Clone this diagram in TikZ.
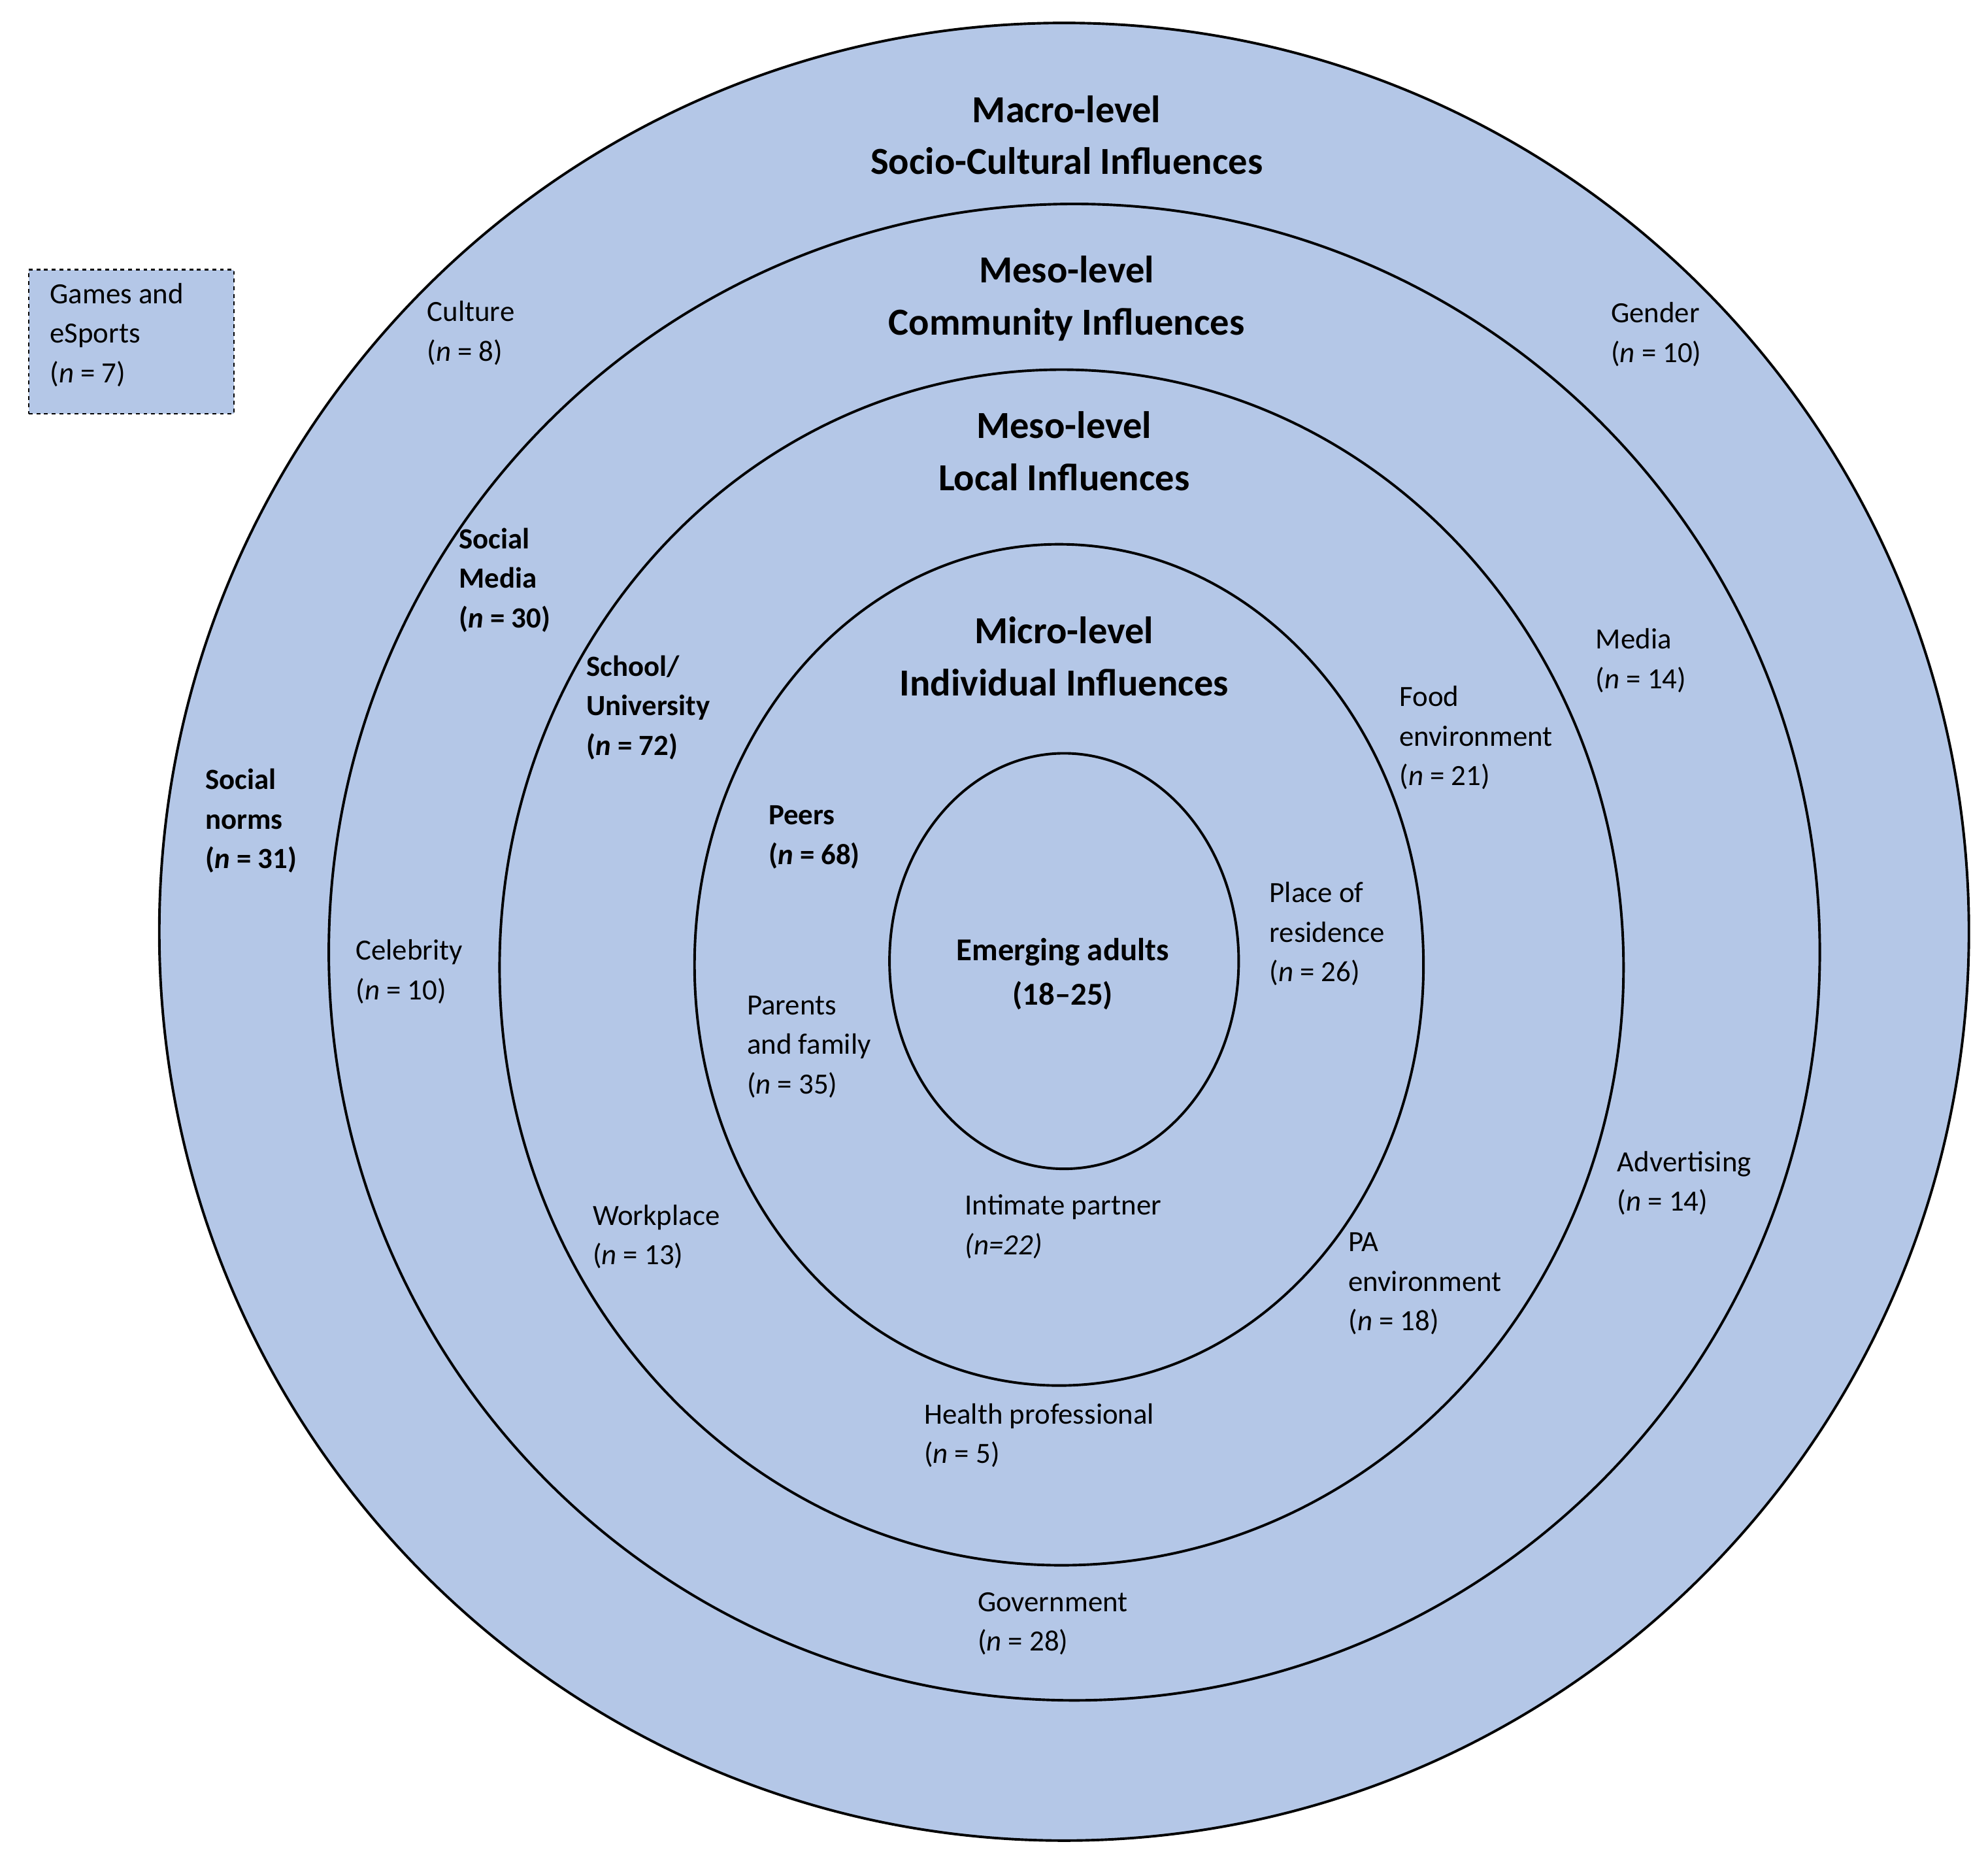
\documentclass[tikz,border=0pt]{standalone}
\usepackage{fontspec}
\setmainfont{Carlito}
\begin{document}
\begin{tikzpicture}[x=1pt,y=-1pt,
 ring/.style={draw=black,line width=2pt,fill=ringfill},
 lab/.style={anchor=north west,align=left,inner sep=0pt,font=\fontsize{23}{31}\selectfont},
 blab/.style={lab,font=\fontsize{23}{31}\selectfont\bfseries},
 head/.style={align=center,inner sep=0pt,font=\fontsize{30}{41}\selectfont\bfseries}]
\definecolor{ringfill}{RGB}{180,199,231}
\useasboundingbox (0,0) rectangle (1560,1458);
\fill[white] (0,0) rectangle (1560,1458);
\path[ring] (835,731) ellipse [x radius=710,y radius=713];
\path[ring] (843,747) ellipse [x radius=585,y radius=587];
\path[ring] (833,759) ellipse [x radius=441,y radius=469];
\path[ring] (831,757) ellipse [x radius=286,y radius=330];
\path[ring] (835,754) ellipse [x radius=137,y radius=163];
\node[draw=black,dashed,line width=1.2pt,fill=ringfill,minimum width=161,minimum height=113,anchor=north west] (games) at (22,211) {};
\node[lab] (gtxt) at (39,222) {Games and\\eSports\\(\textit{n} = 7)};
\node[head] (h1) at (837,106) {Macro-level\\Socio-Cultural Influences};
\node[head] (h2) at (837,234) {Meso-level\\Community Influences};
\node[head] (h3) at (835,354) {Meso-level\\Local Influences};
\node[head] (h4) at (835,515) {Micro-level\\Individual Influences};
\node[align=center,inner sep=0pt,font=\fontsize{25}{35}\selectfont\bfseries] (ea) at (834,764) {Emerging adults\\(18--25)};
\node[lab] (culture) at (335,236) {Culture\\(\textit{n} = 8)};
\node[lab] (gender) at (1264,237) {Gender\\(\textit{n} = 10)};
\node[blab] (sm) at (360,414) {Social\\Media\\(\textit{n} = 30)};
\node[blab] (sn) at (161,603) {Social\\norms\\(\textit{n} = 31)};
\node[lab] (media) at (1252,493) {Media\\(\textit{n} = 14)};
\node[blab] (school) at (460,514) {School/\\University\\(\textit{n} = 72)};
\node[lab] (food) at (1098,538) {Food\\environment\\(\textit{n} = 21)};
\node[blab] (peers) at (603,632) {Peers\\(\textit{n} = 68)};
\node[lab] (place) at (996,692) {Place of\\residence\\(\textit{n} = 26)};
\node[lab] (celeb) at (279,737) {Celebrity\\(\textit{n} = 10)};
\node[lab] (parents) at (586,781) {Parents\\and family\\(\textit{n} = 35)};
\node[lab] (adv) at (1269,903) {Advertising\\(\textit{n} = 14)};
\node[lab] (intim) at (757,937) {Intimate partner\\\textit{(n=22)}};
\node[lab] (work) at (465,945) {Workplace\\(\textit{n} = 13)};
\node[lab] (pa) at (1058,967) {PA\\environment\\(\textit{n} = 18)};
\node[lab] (health) at (725,1101) {Health professional\\(\textit{n} = 5)};
\node[lab] (gov) at (767,1249) {Government\\(\textit{n} = 28)};
\end{tikzpicture}
\end{document}
